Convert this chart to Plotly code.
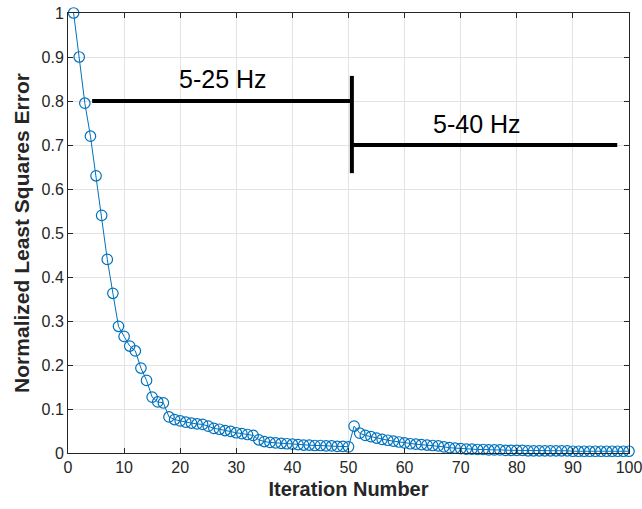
import plotly.graph_objects as go

# iteration index and normalized error
iterations = list(range(1, 101))
nlse = [
    1.000, 0.900, 0.795, 0.720, 0.630, 0.540, 0.440, 0.363, 0.288, 0.265,
    0.243, 0.232, 0.193, 0.165, 0.127, 0.116, 0.114, 0.082, 0.076, 0.073,
    0.070, 0.068, 0.066, 0.065, 0.061, 0.056, 0.054, 0.051, 0.049, 0.046,
    0.044, 0.042, 0.040, 0.030, 0.026, 0.024, 0.023, 0.022, 0.021, 0.020,
    0.019, 0.018, 0.018, 0.017, 0.017, 0.016, 0.016, 0.015, 0.015, 0.014,
    0.061, 0.045, 0.040, 0.037, 0.034, 0.031, 0.029, 0.027, 0.025, 0.023,
    0.021, 0.020, 0.019, 0.018, 0.017, 0.016, 0.014, 0.012, 0.011, 0.010,
    0.009, 0.009, 0.008, 0.008, 0.007, 0.007, 0.007, 0.006, 0.006, 0.006,
    0.006, 0.005, 0.005, 0.005, 0.005, 0.005, 0.005, 0.005, 0.005, 0.004,
    0.004, 0.004, 0.004, 0.004, 0.004, 0.004, 0.004, 0.004, 0.004, 0.004,
]

band_labels = ["5-25 Hz", "5-40 Hz"]
x_ticks = list(range(0, 101, 10))
y_ticks = [i / 10 for i in range(11)]
y_tick_text = ["0", "0.1", "0.2", "0.3", "0.4", "0.5", "0.6", "0.7", "0.8", "0.9", "1"]

blue = "#0072BD"
axis_col = "#262626"
grid_col = "#e3e3e3"

fig = go.Figure()
fig.add_trace(go.Scatter(
    x=iterations, y=nlse,
    mode="lines+markers",
    line=dict(color=blue, width=1),
    marker=dict(symbol="circle-open", size=10.5, color=blue, line=dict(width=1.2)),
    cliponaxis=False,
    showlegend=False,
))

# bracket marking the two frequency bands
split = 50.6
for x0, y0, x1, y1 in [(4.3, 0.80, split, 0.80), (split, 0.857, split, 0.636), (split, 0.70, 97.9, 0.70)]:
    fig.add_shape(type="line", x0=x0, y0=y0, x1=x1, y1=y1, xref="x", yref="y",
                  line=dict(color="black", width=4))

fig.add_annotation(x=27.6, y=0.85, text=band_labels[0], showarrow=False,
                   font=dict(size=25, color="black"))
fig.add_annotation(x=72.9, y=0.748, text=band_labels[1], showarrow=False,
                   font=dict(size=25, color="black"))

fig.update_xaxes(
    range=[0, 100], tickvals=x_ticks, ticks="inside", ticklen=5, tickcolor=axis_col,
    showline=True, linecolor=axis_col, linewidth=1, mirror="ticks",
    showgrid=True, gridcolor=grid_col, zeroline=False, automargin=False,
    ticklabeloverflow="allow",
    tickfont=dict(size=16, color=axis_col),
    title=dict(text="<b>Iteration Number</b>", font=dict(size=20, color=axis_col), standoff=6),
)
fig.update_yaxes(
    range=[0, 1], tickvals=y_ticks, ticktext=y_tick_text, ticks="inside", ticklen=5,
    tickcolor=axis_col, showline=True, linecolor=axis_col, linewidth=1, mirror="ticks",
    showgrid=True, gridcolor=grid_col, zeroline=False, automargin=False,
    ticklabeloverflow="allow",
    tickfont=dict(size=16, color=axis_col),
    title=dict(text="<b>Normalized Least Squares Error</b>", font=dict(size=21, color=axis_col), standoff=6),
)
fig.update_layout(
    width=642, height=509,
    margin=dict(l=68, r=13, t=13, b=56),
    plot_bgcolor="white", paper_bgcolor="white",
    font=dict(family="Liberation Sans, Arial, sans-serif"),
)

# drop the browser's default body margin so the figure sits at the page corner
fig.write_html("out.html", config={"displayModeBar": False},
               post_script="document.body.style.margin='0';document.body.style.overflow='hidden';")
